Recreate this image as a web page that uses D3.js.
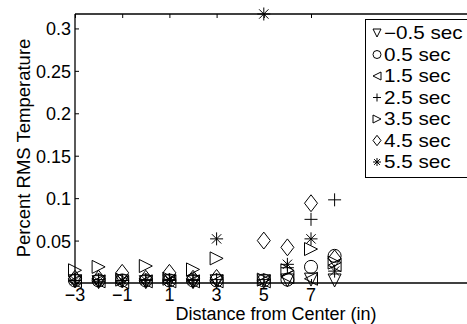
<!DOCTYPE html>
<html>
<head>
<meta charset="utf-8">
<script src="https://cdn.jsdelivr.net/npm/d3@7"></script>
<style>
  html, body { margin: 0; padding: 0; background: #fff; }
  svg { display: block; font-family: "Liberation Sans", Arial, Helvetica, sans-serif; }
</style>
</head>
<body>
<svg id="chart" width="467" height="324"></svg>
<script>
// Measurement positions (in) and RMS temperature per time step
const distances = [-3, -2, -1, 0, 1, 2, 3, 5, 6, 7, 8];
const seriesNames = ["\u22120.5 sec", "0.5 sec", "1.5 sec", "2.5 sec", "3.5 sec", "4.5 sec", "5.5 sec"];
const tm05 = [0.002, 0.001, 0.002, 0.001, 0.002, 0.001, 0.002, 0.002, 0.003, 0.004, 0.003];
const t05  = [0.003, 0.003, 0.003, 0.003, 0.003, 0.003, 0.003, 0.003, 0.004, 0.019, 0.032];
const t15  = [0.002, 0.002, 0.001, 0.002, 0.002, 0.002, 0.002, 0.002, 0.007, 0.005, 0.021];
const t25  = [0.003, 0.004, 0.003, 0.004, 0.003, 0.004, 0.004, 0.004, 0.018, 0.075, 0.098];
const t35  = [0.015, 0.019, 0.004, 0.020, 0.005, 0.016, 0.029, 0.004, 0.015, 0.040, 0.024];
const t45  = [0.005, 0.005, 0.012, 0.005, 0.012, 0.005, 0.006, 0.050, 0.042, 0.094, 0.029];
const t55  = [0.003, 0.002, 0.003, 0.003, 0.004, 0.003, 0.052, 0.317, 0.022, 0.052, 0.014];
const seriesValues = [tm05, t05, t15, t25, t35, t45, t55];
const xTicks = [-3, -1, 1, 3, 5, 7];
const yTicks = [0, 0.05, 0.1, 0.15, 0.2, 0.25, 0.3];

// Marker outlines (s = half-size in px)
const markerPath = {
  triDown:  s => `M${-s},${-s}L${s},${-s}L0,${s}Z`,
  circle:   s => `M${s},0A${s},${s} 0 1,1 ${-s},0A${s},${s} 0 1,1 ${s},0Z`,
  triLeft:  s => `M${s},${-s}L${s},${s}L${-s},0Z`,
  plus:     s => `M${-s},0L${s},0M0,${-s}L0,${s}`,
  triRight: s => `M${-s},${-s}L${-s},${s}L${s},0Z`,
  diamond:  s => `M0,${-s * 1.3}L${s},0L0,${s * 1.3}L${-s},0Z`,
  star:     s => { const d = s * 0.72; return `M${-s},0L${s},0M0,${-s}L0,${s}M${-d},${-d}L${d},${d}M${-d},${d}L${d},${-d}`; }
};
const markerOrder = ["triDown", "circle", "triLeft", "plus", "triRight", "diamond", "star"];

const svg = d3.select("#chart");
const W = 467, H = 324;
const FS = 18;
svg.append("rect").attr("width", W).attr("height", H).attr("fill", "#fff");

const mLeft = 75, mTop = 14, mBottom = 283;
const x = d3.scaleLinear().domain([-3, 14]).range([mLeft, mLeft + 17 * 23.6]);
const yMax = d3.max(seriesValues, s => d3.max(s));
const y = d3.scaleLinear().domain([0, yMax]).range([mBottom, mTop]);

// Axes box lines
const frame = svg.append("g").attr("stroke", "#000").attr("stroke-width", 1.3);
frame.append("line").attr("x1", mLeft).attr("x2", W).attr("y1", mTop).attr("y2", mTop);
frame.append("line").attr("x1", mLeft).attr("x2", W).attr("y1", mBottom).attr("y2", mBottom);
frame.append("line").attr("x1", mLeft).attr("x2", mLeft).attr("y1", mTop).attr("y2", mBottom);

// Y axis: inward ticks, labels on the left
const gy = svg.append("g").attr("transform", `translate(${mLeft},0)`)
  .call(d3.axisRight(y).tickValues(yTicks).tickSize(4));
gy.select(".domain").remove();
gy.attr("font-family", null);
gy.selectAll(".tick line").attr("stroke", "#000");
gy.selectAll(".tick text").attr("x", -4).attr("text-anchor", "end").attr("dy", "0.36em")
  .attr("font-size", FS).attr("fill", "#000")
  .text(d => d === 0 ? "" : String(+d.toFixed(2)));

// X axis: inward ticks at bottom and top
const gx = svg.append("g").attr("transform", `translate(0,${mBottom})`)
  .call(d3.axisTop(x).tickValues(xTicks).tickSize(4).tickFormat(""));
gx.select(".domain").remove();
gx.selectAll(".tick line").attr("stroke", "#000");
const gxTop = svg.append("g").attr("transform", `translate(0,${mTop})`)
  .call(d3.axisBottom(x).tickValues(xTicks).tickSize(4).tickFormat(""));
gxTop.select(".domain").remove();
gxTop.selectAll(".tick line").attr("stroke", "#000");

svg.append("g").selectAll("text").data(xTicks).join("text")
  .attr("x", d => x(d)).attr("y", 301).attr("text-anchor", "middle")
  .attr("font-size", FS).attr("fill", "#000")
  .text(d => d < 0 ? "\u2212" + Math.abs(d) : String(d));

// Axis titles
svg.append("text").attr("x", 276).attr("y", 320).attr("text-anchor", "middle")
  .attr("font-size", 18).attr("fill", "#000").text("Distance from Center (in)");
svg.append("text").attr("transform", `translate(30,148) rotate(-90)`)
  .attr("text-anchor", "middle").attr("font-size", 18.5).attr("fill", "#000")
  .text("Percent RMS Temperature");

// Data markers
const pts = [];
seriesValues.forEach((vals, si) => vals.forEach((v, i) => pts.push({ si, x: distances[i], v })));
svg.append("g").selectAll("path").data(pts).join("path")
  .attr("transform", d => `translate(${x(d.x)},${y(d.v)})`)
  .attr("d", d => markerPath[markerOrder[d.si]](6.5))
  .attr("fill", "none").attr("stroke", "#000").attr("stroke-width", 1);

// Legend
const lg = svg.append("g");
lg.append("rect").attr("x", 365.5).attr("y", 19.5).attr("width", 120).attr("height", 158)
  .attr("fill", "#fff").attr("stroke", "#000").attr("stroke-width", 1);
const rows = lg.selectAll("g.row").data(seriesNames).join("g").attr("class", "row")
  .attr("transform", (d, i) => `translate(0,${33 + i * 21.5})`);
rows.append("path").attr("transform", "translate(377,0)")
  .attr("d", (d, i) => markerPath[markerOrder[i]](4))
  .attr("fill", "none").attr("stroke", "#000").attr("stroke-width", 1);
rows.append("text").attr("transform", "translate(384,0) scale(1.18,1)")
  .attr("dy", "0.36em").attr("font-size", 17.5).attr("fill", "#000")
  .text(d => d);
</script>
</body>
</html>
